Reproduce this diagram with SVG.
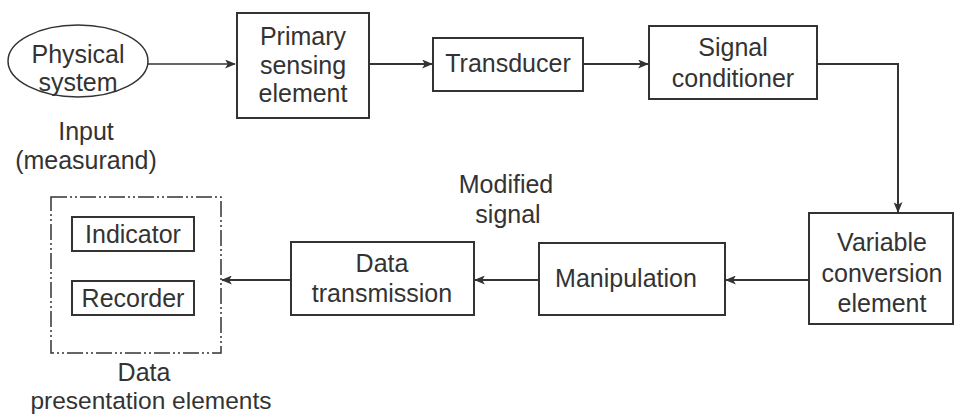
<svg xmlns="http://www.w3.org/2000/svg" width="956" height="416" viewBox="0 0 956 416">
<defs>
<marker id="ah" viewBox="0 0 12 10" refX="11" refY="5" markerWidth="11" markerHeight="9" markerUnits="userSpaceOnUse" orient="auto">
<path d="M0,0 L12,5 L0,10 L3,5 Z" fill="#333"/>
</marker>
</defs>
<style>
text{font-family:"Liberation Sans",Arial,sans-serif;font-size:25px;fill:#333;text-anchor:middle}
.box{fill:#fff;stroke:#333;stroke-width:2}
.c{fill:none;stroke:#333;stroke-width:2;marker-end:url(#ah)}
</style>
<rect width="956" height="416" fill="#fff"/>
<g id="connectors">
<path class="c" d="M148,64 H235" style="stroke:#666"/>
<path class="c" d="M369,64 H432"/>
<path class="c" d="M583,64 H648"/>
<path class="c" d="M817,64 H898 V212"/>
<path class="c" d="M809,280 H726"/>
<path class="c" d="M539,280 H475"/>
<path class="c" d="M291,280 H222"/>
</g>
<g id="physical">
<ellipse cx="78" cy="61" rx="70" ry="36" fill="#fff" stroke="#333" stroke-width="1.5"/>
<text x="78" y="63">Physical</text>
<text x="78" y="91">system</text>
</g>
<g id="input-label">
<text x="86" y="140">Input</text>
<text x="86" y="169">(measurand)</text>
</g>
<g id="primary">
<rect class="box" x="237" y="13" width="132" height="105"/>
<text x="303" y="45">Primary</text>
<text x="303" y="74">sensing</text>
<text x="303" y="102">element</text>
</g>
<g id="transducer">
<rect class="box" x="433" y="38" width="150" height="53"/>
<text x="508" y="72">Transducer</text>
</g>
<g id="signal-conditioner">
<rect class="box" x="649" y="26" width="168" height="73"/>
<text x="733" y="56">Signal</text>
<text x="733" y="87">conditioner</text>
</g>
<g id="variable-conversion">
<rect class="box" x="809" y="213" width="144" height="111"/>
<text x="882" y="251">Variable</text>
<text x="882" y="282">conversion</text>
<text x="882" y="312">element</text>
</g>
<g id="modified-label">
<text x="506" y="193">Modified</text>
<text x="508" y="223">signal</text>
</g>
<g id="manipulation">
<rect class="box" x="539" y="243" width="186" height="72"/>
<text x="626" y="287">Manipulation</text>
</g>
<g id="data-transmission">
<rect class="box" x="291" y="242" width="183" height="73"/>
<text x="382" y="272">Data</text>
<text x="382" y="302">transmission</text>
</g>
<g id="data-presentation">
<rect x="51" y="197" width="170" height="156" fill="none" stroke="#333" stroke-width="1.5" stroke-dasharray="16,3,2,3,2,3"/>
<rect class="box" x="72" y="217" width="122" height="34"/>
<text x="133" y="243">Indicator</text>
<rect class="box" x="72" y="281" width="122" height="34"/>
<text x="133" y="307">Recorder</text>
<text x="144" y="381">Data</text>
<text x="151" y="409" style="font-size:24.5px">presentation elements</text>
</g>
</svg>
